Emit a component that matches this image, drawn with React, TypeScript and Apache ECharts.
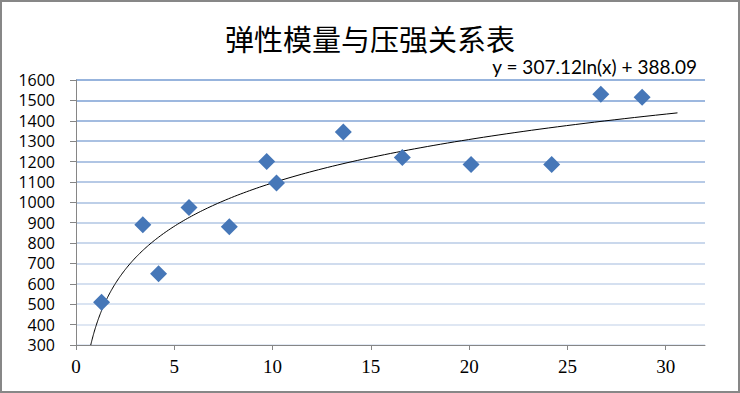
import React, { useEffect, useRef } from "react";
import * as echarts from "echarts";

const titleText = "弹性模量与压强关系表";
const pressure = [1.3, 3.4, 4.2, 5.75, 7.8, 9.7, 10.2, 13.6, 16.6, 20.1, 24.2, 26.7, 28.8];
const modulus = [510, 890, 650, 975, 880, 1200, 1095, 1345, 1220, 1185, 1185, 1530, 1515];
const xTicks = [0, 5, 10, 15, 20, 25, 30];
const trendA = 307.12;
const trendB = 388.09;
const trendEndX = 30.6;
const equationText = "y = 307.12ln(x) + 388.09";
const gridColors = [
  "#e3eaf5", "#dfe7f3", "#dae4f2", "#d5e0f0", "#d0dcee", "#cad8ec", "#c4d4ea",
  "#bdcfe8", "#b7cae6", "#b0c5e4", "#aac1e2", "#a3bce0", "#9db8df", "#97b4dd",
];

export default function App() {
  const ref = useRef<HTMLDivElement>(null);
  useEffect(() => {
    if (!ref.current) return;
    const chart = echarts.init(ref.current, null, { renderer: "svg" });
    const x0 = Math.exp((300 - trendB) / trendA);
    const trend: number[][] = [];
    const n = 200;
    for (let i = 0; i <= n; i++) {
      const lx = Math.log(x0) + (Math.log(trendEndX) - Math.log(x0)) * (i / n);
      const x = Math.exp(lx);
      trend.push([x, trendA * Math.log(x) + trendB]);
    }
    chart.setOption({
      animation: false,
      backgroundColor: "#fff",
      grid: { left: 76, right: 35, top: 80, bottom: 48 },
      title: {
        text: titleText,
        left: "center",
        top: 18,
        textStyle: {
          fontFamily: "Noto Sans CJK SC",
          fontSize: 29,
          fontWeight: "normal",
          color: "#000",
        },
      },
      graphic: [
        {
          type: "rect",
          shape: { x: 1, y: 1, width: 738, height: 391 },
          style: { fill: "none", stroke: "#878787", lineWidth: 2 },
          silent: true,
        },
        {
          type: "text",
          x: 697,
          y: 66,
          style: {
            text: equationText,
            align: "right",
            verticalAlign: "middle",
            fontFamily: "Lato",
            fontSize: 19,
            fill: "#000",
          },
        },
      ],
      xAxis: {
        type: "value",
        min: 0,
        max: 32,
        interval: 5,
        axisLine: { show: true, lineStyle: { color: "#868686", width: 1 } },
        axisTick: { show: true, length: 5, customValues: xTicks, lineStyle: { color: "#868686" } },
        axisLabel: {
          customValues: xTicks,
          margin: 12,
          fontFamily: "Liberation Serif",
          fontSize: 19,
          color: "#000",
        },
        splitLine: { show: false },
      },
      yAxis: {
        type: "value",
        min: 300,
        max: 1600,
        interval: 100,
        axisLine: { show: true, lineStyle: { color: "#868686", width: 1 } },
        axisTick: { show: true, length: 6, lineStyle: { color: "#868686" } },
        axisLabel: {
          margin: 21,
          fontFamily: "Open Sans",
          fontSize: 16,
          color: "#000",
          formatter: (v: number) => String(v),
        },
        splitLine: { show: true, lineStyle: { color: gridColors, width: 2 } },
      },
      series: [
        {
          type: "line",
          data: trend,
          showSymbol: false,
          symbol: "none",
          lineStyle: { color: "#000", width: 1 },
          z: 3,
        },
        {
          type: "scatter",
          data: pressure.map((x, i) => [x, modulus[i]]),
          symbol: "diamond",
          symbolSize: 17,
          itemStyle: { color: "#4677b8", opacity: 1 },
          z: 4,
        },
      ],
    });
    return () => chart.dispose();
  }, []);
  return (
    <div
      ref={ref}
      style={{ position: "absolute", left: 0, top: 0, width: 740, height: 393 }}
    />
  );
}
